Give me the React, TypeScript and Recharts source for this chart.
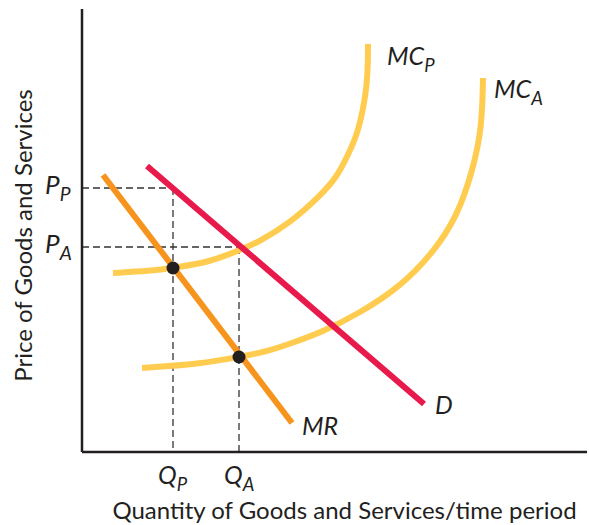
import React from "react";
import {
  LineChart, Line, XAxis, YAxis, ReferenceLine, ReferenceDot, Label,
} from "recharts";

// coordinates in chart units: x = quantity, y = price
const MC_P = [
  { x: 31, y: 179 }, { x: 68, y: 181 }, { x: 91, y: 184 }, { x: 128, y: 190 },
  { x: 158, y: 202 }, { x: 175, y: 209 }, { x: 208, y: 229 }, { x: 238, y: 256 },
  { x: 255, y: 275 }, { x: 266, y: 297 }, { x: 275, y: 317 }, { x: 281, y: 342 },
  { x: 285, y: 367 }, { x: 286, y: 392 }, { x: 286, y: 408 },
];
const MC_A = [
  { x: 60, y: 84 }, { x: 118, y: 88 }, { x: 157, y: 95 }, { x: 188, y: 101 },
  { x: 218, y: 112 }, { x: 238, y: 119 }, { x: 278, y: 139 }, { x: 318, y: 165 },
  { x: 351, y: 199 }, { x: 375, y: 235 }, { x: 391, y: 282 }, { x: 400, y: 325 },
  { x: 401, y: 374 },
];
const MR = [{ x: 21, y: 277 }, { x: 210, y: 29 }];
const DEMAND = [{ x: 65, y: 286 }, { x: 342, y: 48 }];

const Q_TICKS = [91, 157];
const Q_SUBS = ["P", "A"];
const P_TICKS = [264, 205];
const P_SUBS = ["P", "A"];

const INK = "#231f20";
const YELLOW = "#ffcc4f";
const ORANGE = "#f7941d";
const RED = "#e8194b";
const DASH = "#333";
const FONT = "Lato, 'Open Sans', sans-serif";

function SubText({ x, y, main, sub, size = 25 }: { x: number; y: number; main: string; sub: string; size?: number }) {
  return (
    <text x={x} y={y} fill={INK} fontFamily={FONT} fontStyle="italic" fontSize={size}>
      <tspan>{main}</tspan>
      <tspan fontSize={size * 0.74} dy={7}>{sub}</tspan>
    </text>
  );
}

function QTick(props: any) {
  const i = Q_TICKS.indexOf(props.payload.value);
  return <SubText x={props.x - 15} y={props.y + 24} main="Q" sub={Q_SUBS[i]} />;
}

function PTick(props: any) {
  const i = P_TICKS.indexOf(props.payload.value);
  return <SubText x={props.x - 29} y={props.y + 6} main="P" sub={P_SUBS[i]} size={26} />;
}

function endLabel(main: string, sub: string, dx: number, dy: number, len: number) {
  return (props: any) => {
    if (props.index !== len - 1) return null;
    return <SubText key={main + sub} x={props.x + dx} y={props.y + dy} main={main} sub={sub} />;
  };
}

export default function App() {
  return (
    <div style={{ position: "absolute", left: 0, top: 0, background: "#fff" }}>
      <LineChart width={589} height={525} margin={{ top: 9, right: 2, bottom: 0, left: 0 }}>
        <XAxis
          type="number" dataKey="x" domain={[0, 505]} ticks={Q_TICKS} tick={QTick}
          tickLine={false} height={73} axisLine={{ stroke: INK, strokeWidth: 2.5 }}
        >
          <Label
            content={({ viewBox }: any) => (
              <text
                x={viewBox.x + viewBox.width / 2 + 10} y={viewBox.y + 67}
                textAnchor="middle" fill={INK} fontFamily={FONT} fontSize={24}
              >
                Quantity of Goods and Services/time period
              </text>
            )}
          />
        </XAxis>
        <YAxis
          type="number" domain={[0, 443]} ticks={P_TICKS} tick={PTick}
          tickLine={false} width={82} axisLine={{ stroke: INK, strokeWidth: 2.5 }}
        >
          <Label
            content={({ viewBox }: any) => {
              const cx = viewBox.x + 22;
              const cy = viewBox.y + viewBox.height / 2 + 5;
              return (
                <text
                  x={cx} y={cy} transform={`rotate(-90 ${cx} ${cy})`} textAnchor="middle"
                  dominantBaseline="central" fill={INK} fontFamily={FONT} fontSize={24}
                >
                  Price of Goods and Services
                </text>
              );
            }}
          />
        </YAxis>

        <ReferenceLine segment={[{ x: 0, y: P_TICKS[0] }, { x: Q_TICKS[0], y: P_TICKS[0] }]} stroke={DASH} strokeWidth={1.3} strokeDasharray="7 4" />
        <ReferenceLine segment={[{ x: Q_TICKS[0], y: P_TICKS[0] }, { x: Q_TICKS[0], y: 0 }]} stroke={DASH} strokeWidth={1.3} strokeDasharray="7 4" />
        <ReferenceLine segment={[{ x: 0, y: P_TICKS[1] }, { x: Q_TICKS[1], y: P_TICKS[1] }]} stroke={DASH} strokeWidth={1.3} strokeDasharray="7 4" />
        <ReferenceLine segment={[{ x: Q_TICKS[1], y: P_TICKS[1] }, { x: Q_TICKS[1], y: 0 }]} stroke={DASH} strokeWidth={1.3} strokeDasharray="7 4" />

        <Line data={MC_P} dataKey="y" type="basis" stroke={YELLOW} strokeWidth={6} dot={false}
          isAnimationActive={false} label={endLabel("MC", "P", 19, 21, MC_P.length)} />
        <Line data={MC_A} dataKey="y" type="basis" stroke={YELLOW} strokeWidth={6} dot={false}
          isAnimationActive={false} label={endLabel("MC", "A", 11, 20, MC_A.length)} />
        <Line data={MR} dataKey="y" type="linear" stroke={ORANGE} strokeWidth={6} dot={false}
          isAnimationActive={false} label={endLabel("MR", "", 10, 12, MR.length)} />
        <Line data={DEMAND} dataKey="y" type="linear" stroke={RED} strokeWidth={6} dot={false}
          isAnimationActive={false} label={endLabel("D", "", 11, 10, DEMAND.length)} />

        <ReferenceDot x={Q_TICKS[0]} y={184} r={6.5} fill={INK} stroke="none" />
        <ReferenceDot x={Q_TICKS[1]} y={95} r={6.5} fill={INK} stroke="none" />
      </LineChart>
    </div>
  );
}
